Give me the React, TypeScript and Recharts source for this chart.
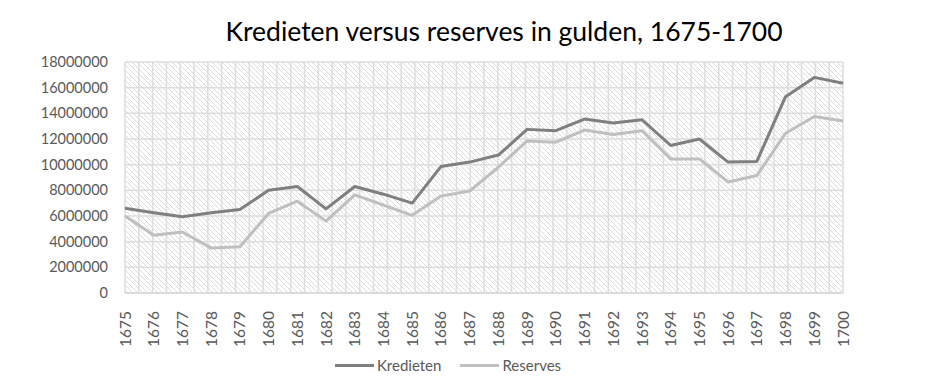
import React from "react";
import { LineChart, Line, XAxis, YAxis, CartesianGrid, Legend } from "recharts";

const years = ["1675","1676","1677","1678","1679","1680","1681","1682","1683","1684","1685","1686","1687","1688","1689","1690","1691","1692","1693","1694","1695","1696","1697","1698","1699","1700"];
const kredieten = [6600000, 6250000, 5950000, 6250000, 6500000, 8000000, 8300000, 6550000, 8300000, 7700000, 7000000, 9850000, 10200000, 10750000, 12750000, 12650000, 13550000, 13250000, 13500000, 11500000, 12000000, 10200000, 10250000, 15300000, 16800000, 16350000];
const reserves = [6000000, 4500000, 4750000, 3500000, 3600000, 6200000, 7150000, 5600000, 7650000, 6850000, 6050000, 7550000, 7950000, 9800000, 11850000, 11750000, 12700000, 12350000, 12650000, 10450000, 10450000, 8650000, 9150000, 12450000, 13750000, 13400000];
const yTicks = [0, 2000000, 4000000, 6000000, 8000000, 10000000, 12000000, 14000000, 16000000, 18000000];
const seriesNames = ["Kredieten", "Reserves"];
const seriesColors = ["#7f7f7f", "#bfbfbf"];
const title = "Kredieten versus reserves in gulden, 1675-1700";

const data = years.map((y, i) => ({ year: y, Kredieten: kredieten[i], Reserves: reserves[i] }));

const FONT = "Lato, 'Open Sans', sans-serif";

const XTick = (props: any) => {
  const { x, y, payload } = props;
  return (
    <text
      x={x}
      y={y + 10}
      transform={`rotate(-90, ${x}, ${y + 10})`}
      textAnchor="end"
      dy="0.36em"
      fill="#595959"
      fontSize={15.5}
      fontFamily={FONT}
    >
      {payload.value}
    </text>
  );
};

const LegendContent = () => (
  <div style={{ display: "flex", justifyContent: "center", alignItems: "center", height: 24, fontFamily: FONT, fontSize: 15, color: "#595959" }}>
    {seriesNames.map((n, i) => (
      <div key={n} style={{ display: "flex", alignItems: "center", marginRight: i === 0 ? 19 : 0 }}>
        <div style={{ width: 39, height: 3, background: seriesColors[i], marginRight: 3 }} />
        <span>{n}</span>
      </div>
    ))}
  </div>
);

export default function App() {
  return (
    <div style={{ position: "relative", width: 929, height: 373 }}>
      <div
        style={{
          position: "absolute",
          left: 0,
          width: 992,
          top: 8,
          textAlign: "center",
          fontFamily: FONT,
          fontSize: 26.5,
          color: "#000",
          lineHeight: "30px",
          zIndex: 2,
        }}
      >
        {title}
      </div>
      <LineChart width={929} height={373} data={data} margin={{ top: 54, right: 94, left: 0, bottom: 19 }}>
        <defs>
          <pattern id="hatch" patternUnits="userSpaceOnUse" width="5" height="5">
            <rect width="5" height="5" fill="#ffffff" />
            <path d="M0,0 L5,5 M-1,4 L1,6 M4,-1 L6,1" stroke="#dcdcdc" strokeWidth="1" />
          </pattern>
        </defs>
        <CartesianGrid
          fill="url(#hatch)"
          fillOpacity={1}
          stroke="#dddddd"
          strokeWidth={1.5}
          verticalCoordinatesGenerator={({ offset }: any) =>
            Array.from({ length: years.length * 2 + 1 }, (_, i) => offset.left + (i * offset.width) / (years.length * 2))
          }
        />
        <XAxis
          dataKey="year"
          interval={0}
          height={45}
          tick={<XTick />}
          tickLine={false}
          axisLine={{ stroke: "#d9d9d9", strokeWidth: 1.5 }}
        />
        <YAxis
          width={117}
          domain={[0, 18000000]}
          ticks={yTicks}
          interval={0}
          tickLine={false}
          axisLine={false}
          tickMargin={11}
          tick={{ fill: "#595959", fontSize: 14.5, fontFamily: FONT }}
          tickFormatter={(v: number) => String(v)}
        />
        <Legend content={<LegendContent />} wrapperStyle={{ left: 0, width: 880, bottom: 4 }} />
        <Line dataKey="Kredieten" stroke={seriesColors[0]} strokeWidth={3} dot={false} isAnimationActive={false} strokeLinejoin="round" />
        <Line dataKey="Reserves" stroke={seriesColors[1]} strokeWidth={3} dot={false} isAnimationActive={false} strokeLinejoin="round" />
      </LineChart>
    </div>
  );
}
